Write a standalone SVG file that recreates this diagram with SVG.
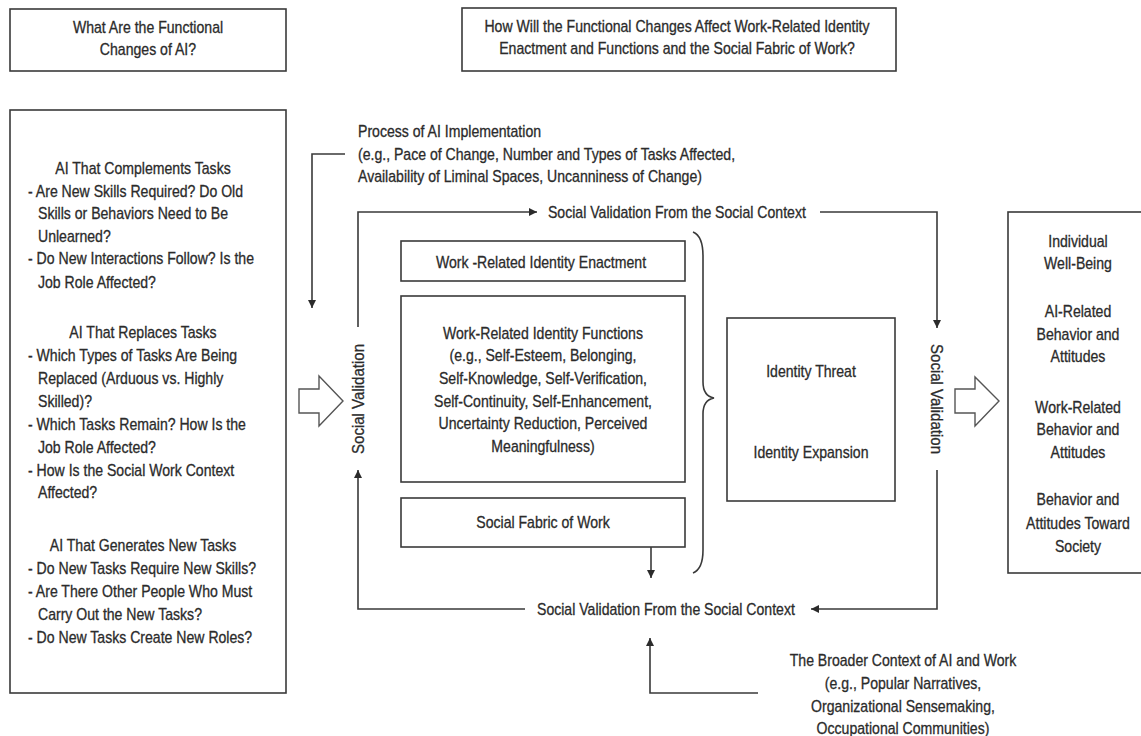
<svg xmlns="http://www.w3.org/2000/svg" width="1141" height="736" viewBox="0 0 1141 736">
<style>
text{font-family:"Liberation Sans",Arial,sans-serif;font-size:16px;fill:#2b2b2b;stroke:#2b2b2b;stroke-width:0.3}
.c{text-anchor:middle}
.box{fill:#fff;stroke:#3a3a3a;stroke-width:1.6}
.ln{fill:none;stroke:#3a3a3a;stroke-width:1.6}
.blk{fill:#fff;stroke:#555;stroke-width:1.4}
</style>
<defs>
<marker id="ah" viewBox="0 0 10 10" refX="10" refY="5" markerWidth="9" markerHeight="8" orient="auto" markerUnits="userSpaceOnUse"><path d="M0,0 L10,5 L0,10 z" fill="#2b2b2b"/></marker>
</defs>
<rect width="1141" height="736" fill="#fff"/>

<g id="q1">
<rect class="box" x="10" y="9" width="276" height="62"/>
<g transform="matrix(.88 0 0 1 17.76 0)">
<text class="c" x="148" y="33">What Are the Functional</text>
<text class="c" x="148" y="55">Changes of AI?</text>
</g>
</g>

<g id="q2">
<rect class="box" x="462" y="8" width="434" height="63"/>
<g transform="matrix(.88 0 0 1 81.24 0)">
<text class="c" x="677" y="32">How Will the Functional Changes Affect Work-Related Identity</text>
<text class="c" x="677" y="54">Enactment and Functions and the Social Fabric of Work?</text>
</g>
</g>

<g id="functional-changes">
<rect class="box" x="10" y="110" width="276" height="583"/>
<g transform="matrix(.88 0 0 1 17.16 0)">
<text class="c" x="143" y="174">AI That Complements Tasks</text>
<text class="c" x="143" y="338">AI That Replaces Tasks</text>
<text class="c" x="143" y="551">AI That Generates New Tasks</text>
</g>
<g transform="matrix(.88 0 0 1 3.36 0)">
<text x="28" y="197">- Are New Skills Required? Do Old</text>
<text x="28" y="264">- Do New Interactions Follow? Is the</text>
<text x="28" y="361">- Which Types of Tasks Are Being</text>
<text x="28" y="430">- Which Tasks Remain? How Is the</text>
<text x="28" y="476">- How Is the Social Work Context</text>
<text x="28" y="574">- Do New Tasks Require New Skills?</text>
<text x="28" y="597">- Are There Other People Who Must</text>
<text x="28" y="643">- Do New Tasks Create New Roles?</text>
</g>
<g transform="matrix(.88 0 0 1 4.56 0)">
<text x="38" y="219">Skills or Behaviors Need to Be</text>
<text x="38" y="242">Unlearned?</text>
<text x="38" y="288">Job Role Affected?</text>
<text x="38" y="384">Replaced (Arduous vs. Highly</text>
<text x="38" y="407">Skilled)?</text>
<text x="38" y="453">Job Role Affected?</text>
<text x="38" y="498">Affected?</text>
<text x="38" y="620">Carry Out the New Tasks?</text>
</g>
</g>

<g id="block-arrow-left">
<polygon class="blk" points="299,389 319,389 319,376 343,401 319,426 319,413 299,413"/>
</g>
<g id="block-arrow-right">
<polygon class="blk" points="955,389 975,389 975,377 999,401 975,426 975,413 955,413"/>
</g>

<g id="process">
<g transform="matrix(.88 0 0 1 42.96 0)">
<text x="358" y="137">Process of AI Implementation</text>
<text x="358" y="160">(e.g., Pace of Change, Number and Types of Tasks Affected,</text>
<text x="358" y="182">Availability of Liminal Spaces, Uncanniness of Change)</text>
</g>
</g>

<g id="sv-top">
<text x="548" y="218" transform="matrix(.88 0 0 1 65.76 0)">Social Validation From the Social Context</text>
</g>
<g id="sv-bottom">
<text x="537" y="615" transform="matrix(.88 0 0 1 64.44 0)">Social Validation From the Social Context</text>
</g>
<g id="sv-left">
<text class="c" transform="translate(364,399) rotate(-90) scale(.94,1)">Social Validation</text>
</g>
<g id="sv-right">
<text class="c" transform="translate(931,399) rotate(90) scale(.94,1)">Social Validation</text>
</g>

<g id="enactment">
<rect class="box" x="401" y="241" width="284" height="40"/>
<text class="c" x="541" y="268" transform="matrix(.88 0 0 1 64.92 0)">Work -Related Identity Enactment</text>
</g>
<g id="functions">
<rect class="box" x="401" y="296" width="284" height="186"/>
<g transform="matrix(.88 0 0 1 65.16 0)">
<text class="c" x="543" y="339">Work-Related Identity Functions</text>
<text class="c" x="543" y="361">(e.g., Self-Esteem, Belonging,</text>
<text class="c" x="543" y="384">Self-Knowledge, Self-Verification,</text>
<text class="c" x="543" y="407">Self-Continuity, Self-Enhancement,</text>
<text class="c" x="543" y="429">Uncertainty Reduction, Perceived</text>
<text class="c" x="543" y="452">Meaningfulness)</text>
</g>
</g>
<g id="fabric">
<rect class="box" x="401" y="498" width="284" height="49"/>
<text class="c" x="543" y="528" transform="matrix(.88 0 0 1 65.16 0)">Social Fabric of Work</text>
</g>

<g id="brace">
<path class="ln" d="M693,232 Q703,236 703,256 V382 Q703,396 714,398 Q703,400 703,414 V550 Q703,569 693,573"/>
</g>

<g id="identity">
<rect class="box" x="727" y="318" width="168" height="183"/>
<g transform="matrix(.88 0 0 1 97.32 0)">
<text class="c" x="811" y="377">Identity Threat</text>
<text class="c" x="811" y="458">Identity Expansion</text>
</g>
</g>

<g id="outcomes">
<rect class="box" x="1008" y="212" width="140" height="361"/>
<g transform="matrix(.88 0 0 1 129.36 0)">
<text class="c" x="1078" y="247">Individual</text>
<text class="c" x="1078" y="269">Well-Being</text>
<text class="c" x="1078" y="317">AI-Related</text>
<text class="c" x="1078" y="340">Behavior and</text>
<text class="c" x="1078" y="362">Attitudes</text>
<text class="c" x="1078" y="413">Work-Related</text>
<text class="c" x="1078" y="435">Behavior and</text>
<text class="c" x="1078" y="458">Attitudes</text>
<text class="c" x="1078" y="505">Behavior and</text>
<text class="c" x="1078" y="529">Attitudes Toward</text>
<text class="c" x="1078" y="552">Society</text>
</g>
</g>

<g id="broader">
<g transform="matrix(.88 0 0 1 108.36 0)">
<text class="c" x="903" y="666">The Broader Context of AI and Work</text>
<text class="c" x="903" y="689">(e.g., Popular Narratives,</text>
<text class="c" x="903" y="712">Organizational Sensemaking,</text>
<text class="c" x="903" y="734">Occupational Communities)</text>
</g>
</g>

<g id="connectors">
<path class="ln" d="M345,154 H312 V308" marker-end="url(#ah)"/>
<path class="ln" d="M358,327 V212 H537" marker-end="url(#ah)"/>
<path class="ln" d="M820,212 H937 V328" marker-end="url(#ah)"/>
<path class="ln" d="M937,470 V609 H811" marker-end="url(#ah)"/>
<path class="ln" d="M525,609 H358 V470" marker-end="url(#ah)"/>
<path class="ln" d="M651,547 V578" marker-end="url(#ah)"/>
<path class="ln" d="M758,693 H650 V638" marker-end="url(#ah)"/>
</g>
</svg>
